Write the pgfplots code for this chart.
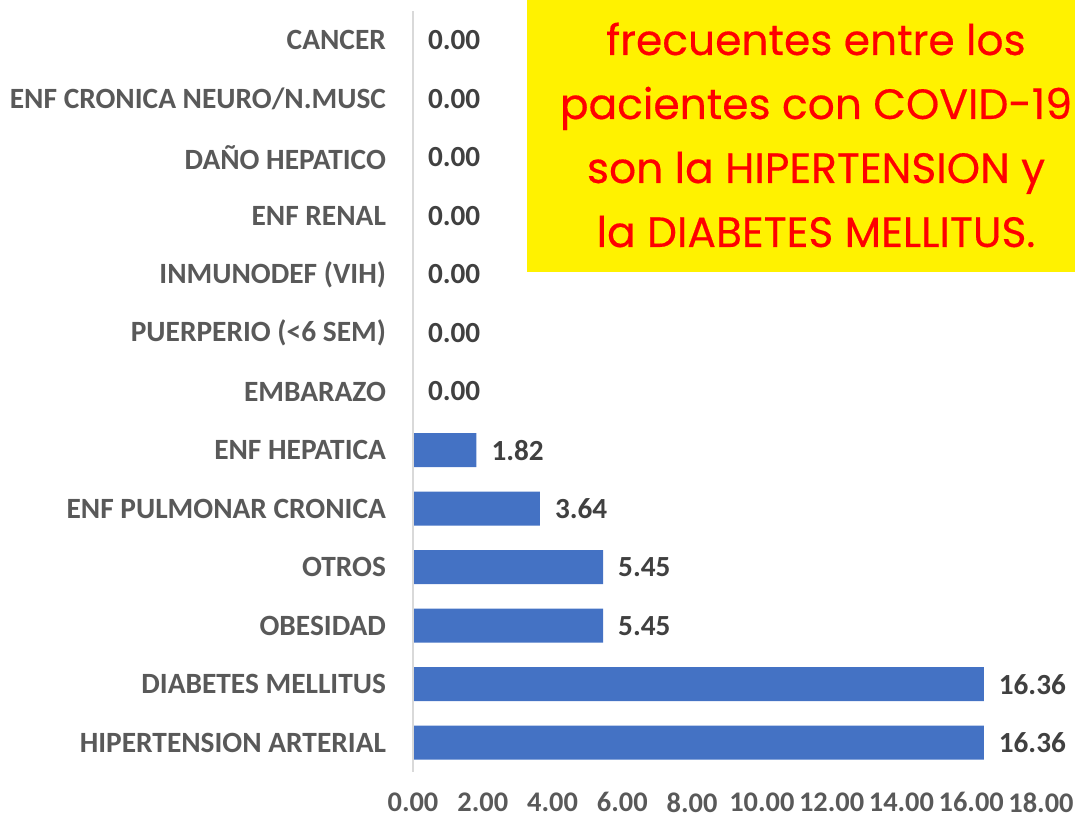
\documentclass[border=0pt]{standalone}
\usepackage{pgfplots}
\pgfplotsset{compat=1.18}
\usepackage{fontspec}
\setmainfont{Carlito}
\newfontfamily\boxfont[FakeBold=0.4]{Poppins}
\definecolor{barblue}{HTML}{4472C4}
\definecolor{axgray}{HTML}{D9D9D9}
\definecolor{labgray}{HTML}{595959}
\definecolor{valgray}{HTML}{404040}
\begin{document}
\begin{tikzpicture}
\begin{axis}[
  at={(0pt,0pt)}, anchor=south west,
  scale only axis,
  width=314pt, height=380.5pt,
  xbar, bar width=0.58,
  xmin=0, xmax=18,
  ymin=-0.5, ymax=12.5,
  ytick={0,...,12},
  yticklabels={HIPERTENSION ARTERIAL,DIABETES MELLITUS,OBESIDAD,OTROS,ENF PULMONAR CRONICA,ENF HEPATICA,EMBARAZO,PUERPERIO (<6 SEM),INMUNODEF (VIH),ENF RENAL,DAÑO HEPATICO,ENF CRONICA NEURO/N.MUSC,CANCER},
  xtick={0,2,...,18},
  axis lines=left,
  axis line style={draw=none},
  major tick length=0pt,
  yticklabel style={font=\fontsize{14.7}{16}\selectfont\bfseries, text=labgray, xshift=-10pt},
  xticklabel style={font=\fontsize{14.2}{16}\selectfont\bfseries, text=labgray, yshift=-9pt, inner ysep=1pt},
  xticklabel={\pgfmathprintnumber[fixed,fixed zerofill,precision=2,assume math mode=true]{\tick}},
  nodes near coords={\pgfmathprintnumber[fixed,fixed zerofill,precision=2,assume math mode=true]{\pgfplotspointmeta}},
  every node near coord/.append style={font=\fontsize{14.6}{16}\selectfont\bfseries, text=valgray, anchor=west, xshift=4pt},
  clip=false,
]
\addplot[fill=barblue, draw=none] coordinates {
 (16.36,0) (16.36,1) (5.45,2) (5.45,3) (3.64,4) (1.82,5) (0,6) (0,7) (0,8) (0,9) (0,10) (0,11) (0,12)};
\draw[axgray, line width=1.3pt] (axis cs:0,-0.5) -- (axis cs:0,12.5);
\end{axis}
\fill[yellow] (57pt,250pt) rectangle (340pt,390pt);
\node[font=\boxfont\fontsize{21.2}{32}\selectfont, text=red, align=center, anchor=center] at (201.5pt,318.5pt)
 {frecuentes entre los\\pacientes con COVID-19\\son la HIPERTENSION y\\la DIABETES MELLITUS.};
\pgfresetboundingbox
\path[use as bounding box] (-206.5pt,-25pt) rectangle (331pt,386pt);
\end{tikzpicture}
\end{document}
